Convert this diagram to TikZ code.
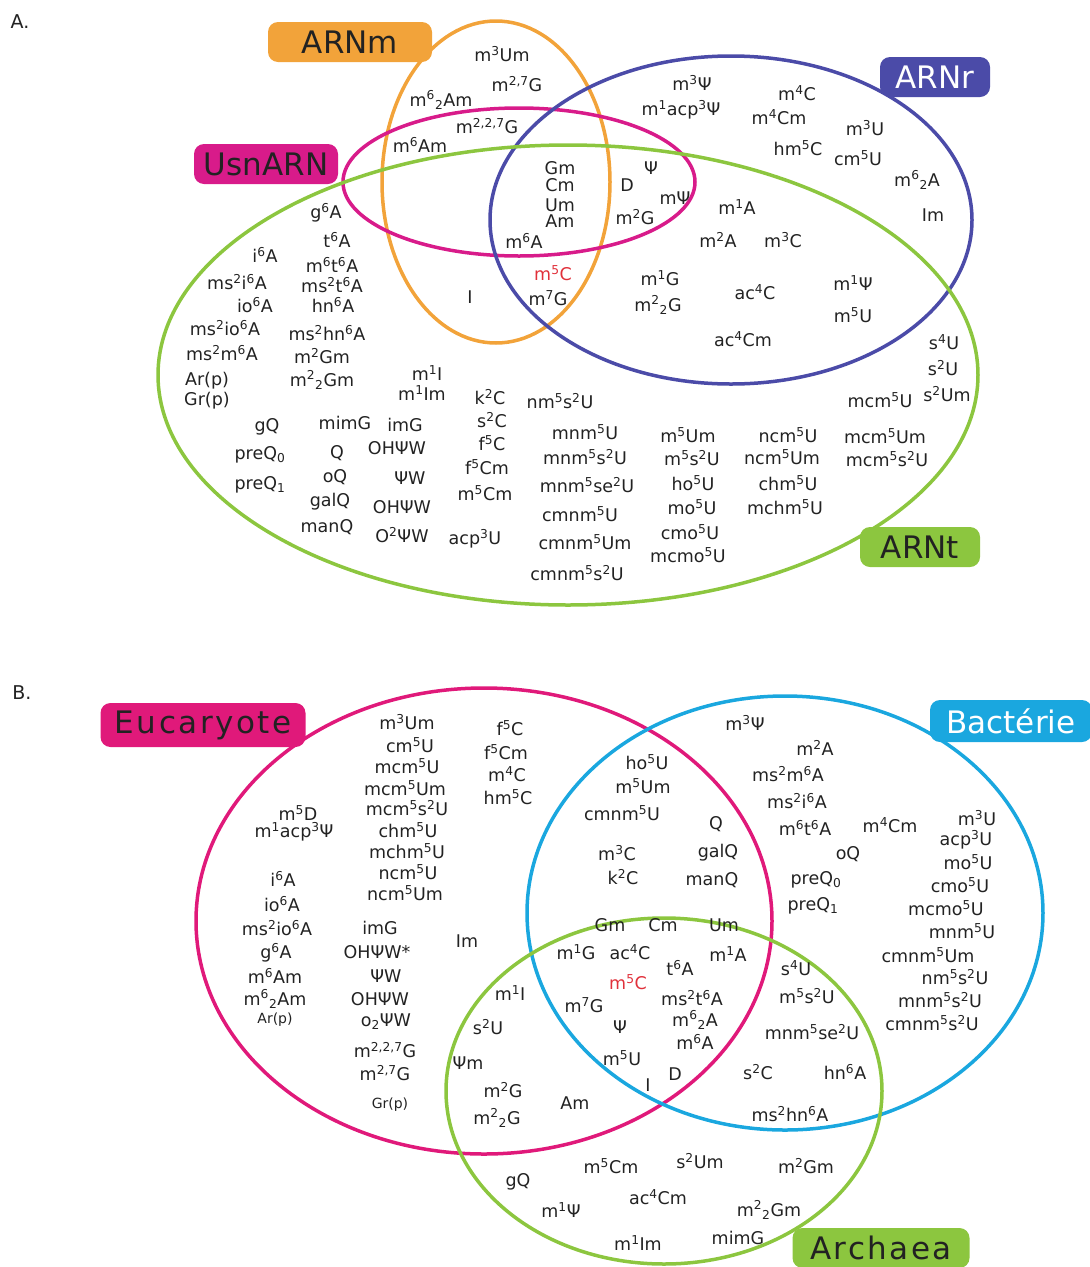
\documentclass[tikz,border=0pt]{standalone}
\usepackage{fontspec}
\setmainfont{DejaVu Sans}
\definecolor{orna}{HTML}{F2A33A}
\definecolor{magA}{HTML}{D81B8A}
\definecolor{indA}{HTML}{4B4BA8}
\definecolor{grnA}{HTML}{8CC63F}
\definecolor{magB}{HTML}{E0197A}
\definecolor{cyaB}{HTML}{1AA7DF}
\definecolor{hot}{HTML}{E0303A}
\definecolor{txt}{HTML}{222222}
\newcommand{\nsup}[1]{\textsuperscript{#1}}
\newcommand{\nsub}[1]{\textsubscript{#1}}
\tikzset{
  mod/.style={font=\fontsize{17.5}{19}\selectfont, inner sep=0pt, text=txt},
  tiny/.style={mod, font=\fontsize{14}{16}\selectfont},
  tag/.style={rounded corners=10pt, inner sep=0pt, minimum height=40pt, text=txt, font=\fontsize{31}{34}\selectfont},
  ring/.style={line width=3.5pt},
}
\begin{document}
\begin{tikzpicture}[x=1pt,y=-1pt]
\useasboundingbox (0,0) rectangle (1090,1267);
% panel A
\node[font=\fontsize{19}{21}\selectfont, text=txt] (pa) at (20,22) {A.};
\draw[ring, orna] (496,182) ellipse [x radius=114pt, y radius=161pt];
\draw[ring, magA] (519,182) ellipse [x radius=176pt, y radius=74pt];
\draw[ring, indA] (731,220) ellipse [x radius=241pt, y radius=164pt];
\draw[ring, grnA] (568,375) ellipse [x radius=410pt, y radius=230pt];
\node[tag, fill=orna, minimum width=164pt] (arnm) at (350,42) {ARNm};
\node[tag, fill=indA, text=white, minimum width=110pt] (arnr) at (935,77) {ARNr};
\node[tag, fill=magA, minimum width=144pt] (usn) at (266,164) {UsnARN};
\node[tag, fill=grnA, minimum width=120pt] (arnt) at (920,547) {ARNt};
\node[mod] (a1) at (502,54) {m\nsup{3}Um};
\node[mod] (a2) at (517,84) {m\nsup{2,7}G};
\node[mod] (a3) at (441,100) {m\nsup{6}\nsub{2}Am};
\node[mod] (a4) at (487,126) {m\nsup{2,2,7}G};
\node[mod] (a5) at (420,145) {m\nsup{6}Am};
\node[mod] (a6) at (470,297) {I};
\node[mod] (a7) at (560,168) {Gm};
\node[mod] (a8) at (560,185) {Cm};
\node[mod] (a9) at (560,205) {Um};
\node[mod] (a10) at (560,221) {Am};
\node[mod] (a11) at (524,241) {m\nsup{6}A};
\node[mod] (a12) at (627,185) {D};
\node[mod] (a13) at (651,168) {Ψ};
\node[mod] (a14) at (675,198) {mΨ};
\node[mod] (a15) at (635,217) {m\nsup{2}G};
\node[mod, text=hot] (a16) at (553,273) {m\nsup{5}C};
\node[mod] (a17) at (548,298) {m\nsup{7}G};
\node[mod] (a18) at (692,83) {m\nsup{3}Ψ};
\node[mod] (a19) at (681,110) {m\nsup{1}acp\nsup{3}Ψ};
\node[mod] (a20) at (797,93) {m\nsup{4}C};
\node[mod] (a21) at (779,117) {m\nsup{4}Cm};
\node[mod] (a22) at (798,148) {hm\nsup{5}C};
\node[mod] (a23) at (865,128) {m\nsup{3}U};
\node[mod] (a24) at (858,158) {cm\nsup{5}U};
\node[mod] (a25) at (917,180) {m\nsup{6}\nsub{2}A};
\node[mod] (a26) at (933,215) {Im};
\node[mod] (a27) at (737,207) {m\nsup{1}A};
\node[mod] (a28) at (718,240) {m\nsup{2}A};
\node[mod] (a29) at (783,240) {m\nsup{3}C};
\node[mod] (a30) at (660,278) {m\nsup{1}G};
\node[mod] (a31) at (658,305) {m\nsup{2}\nsub{2}G};
\node[mod] (a32) at (755,292) {ac\nsup{4}C};
\node[mod] (a33) at (853,283) {m\nsup{1}Ψ};
\node[mod] (a34) at (853,315) {m\nsup{5}U};
\node[mod] (a35) at (743,339) {ac\nsup{4}Cm};
\node[mod] (a36) at (944,342) {s\nsup{4}U};
\node[mod] (a37) at (943,368) {s\nsup{2}U};
\node[mod] (a38) at (880,400) {mcm\nsup{5}U};
\node[mod] (a39) at (947,394) {s\nsup{2}Um};
\node[mod] (a40) at (326,213) {g\nsup{6}A};
\node[mod] (a41) at (337,240) {t\nsup{6}A};
\node[mod] (a42) at (265,255) {i\nsup{6}A};
\node[mod] (a43) at (332,265) {m\nsup{6}t\nsup{6}A};
\node[mod] (a44) at (237,282) {ms\nsup{2}i\nsup{6}A};
\node[mod] (a45) at (332,285) {ms\nsup{2}t\nsup{6}A};
\node[mod] (a46) at (255,305) {io\nsup{6}A};
\node[mod] (a47) at (333,305) {hn\nsup{6}A};
\node[mod] (a48) at (225,328) {ms\nsup{2}io\nsup{6}A};
\node[mod] (a49) at (327,333) {ms\nsup{2}hn\nsup{6}A};
\node[mod] (a50) at (222,353) {ms\nsup{2}m\nsup{6}A};
\node[mod] (a51) at (322,356) {m\nsup{2}Gm};
\node[mod] (a52) at (322,380) {m\nsup{2}\nsub{2}Gm};
\node[mod] (a53) at (207,381) {Ar(p)};
\node[mod] (a54) at (207,401) {Gr(p)};
\node[mod] (a55) at (427,373) {m\nsup{1}I};
\node[mod] (a56) at (422,393) {m\nsup{1}Im};
\node[mod] (a57) at (490,397) {k\nsup{2}C};
\node[mod] (a58) at (560,401) {nm\nsup{5}s\nsup{2}U};
\node[mod] (a59) at (267,427) {gQ};
\node[mod] (a60) at (345,423) {mimG};
\node[mod] (a61) at (405,425) {imG};
\node[mod] (a62) at (492,420) {s\nsup{2}C};
\node[mod] (a63) at (260,455) {preQ\nsub{0}};
\node[mod] (a64) at (337,453) {Q};
\node[mod] (a65) at (397,448) {OHΨW};
\node[mod] (a66) at (492,443) {f\nsup{5}C};
\node[mod] (a67) at (487,467) {f\nsup{5}Cm};
\node[mod] (a68) at (260,485) {preQ\nsub{1}};
\node[mod] (a69) at (335,477) {oQ};
\node[mod] (a70) at (410,478) {ΨW};
\node[mod] (a71) at (485,493) {m\nsup{5}Cm};
\node[mod] (a72) at (330,502) {galQ};
\node[mod] (a73) at (402,507) {OHΨW};
\node[mod] (a74) at (327,527) {manQ};
\node[mod] (a75) at (402,535) {O\nsup{2}ΨW};
\node[mod] (a76) at (475,539) {acp\nsup{3}U};
\node[mod] (a77) at (585,432) {mnm\nsup{5}U};
\node[mod] (a78) at (585,457) {mnm\nsup{5}s\nsup{2}U};
\node[mod] (a79) at (587,485) {mnm\nsup{5}se\nsup{2}U};
\node[mod] (a80) at (580,514) {cmnm\nsup{5}U};
\node[mod] (a81) at (585,542) {cmnm\nsup{5}Um};
\node[mod] (a82) at (577,573) {cmnm\nsup{5}s\nsup{2}U};
\node[mod] (a83) at (688,435) {m\nsup{5}Um};
\node[mod] (a84) at (692,458) {m\nsup{5}s\nsup{2}U};
\node[mod] (a85) at (693,483) {ho\nsup{5}U};
\node[mod] (a86) at (692,507) {mo\nsup{5}U};
\node[mod] (a87) at (690,532) {cmo\nsup{5}U};
\node[mod] (a88) at (688,555) {mcmo\nsup{5}U};
\node[mod] (a89) at (788,435) {ncm\nsup{5}U};
\node[mod] (a90) at (782,457) {ncm\nsup{5}Um};
\node[mod] (a91) at (788,483) {chm\nsup{5}U};
\node[mod] (a92) at (785,507) {mchm\nsup{5}U};
\node[mod] (a93) at (885,436) {mcm\nsup{5}Um};
\node[mod] (a94) at (887,459) {mcm\nsup{5}s\nsup{2}U};
% panel B
\node[font=\fontsize{19}{21}\selectfont, text=txt] (pb) at (22,693) {B.};
\draw[ring, magB] (484,921) ellipse [x radius=288pt, y radius=233pt];
\draw[ring, cyaB] (785,913) ellipse [x radius=258pt, y radius=217pt];
\draw[ring, grnA] (664,1091) ellipse [x radius=218pt, y radius=173pt];
\node[tag, fill=magB, minimum width=205pt, minimum height=44pt, font=\fontsize{31}{34}\selectfont\addfontfeatures{LetterSpace=8}] (euc) at (203,725) {Eucaryote};
\node[tag, fill=cyaB, text=white, minimum width=162pt, minimum height=42pt] (bac) at (1011,721) {Bactérie};
\node[tag, fill=grnA, minimum width=177pt, font=\fontsize{31}{34}\selectfont\addfontfeatures{LetterSpace=8}] (arc) at (881,1248) {Archaea};
\node[mod] (b1) at (407,722) {m\nsup{3}Um};
\node[mod] (b2) at (410,745) {cm\nsup{5}U};
\node[mod] (b3) at (407,766) {mcm\nsup{5}U};
\node[mod] (b4) at (405,788) {mcm\nsup{5}Um};
\node[mod] (b5) at (407,808) {mcm\nsup{5}s\nsup{2}U};
\node[mod] (b6) at (408,830) {chm\nsup{5}U};
\node[mod] (b7) at (407,851) {mchm\nsup{5}U};
\node[mod] (b8) at (408,872) {ncm\nsup{5}U};
\node[mod] (b9) at (405,893) {ncm\nsup{5}Um};
\node[mod] (b10) at (510,728) {f\nsup{5}C};
\node[mod] (b11) at (506,752) {f\nsup{5}Cm};
\node[mod] (b12) at (507,774) {m\nsup{4}C};
\node[mod] (b13) at (508,797) {hm\nsup{5}C};
\node[mod] (b14) at (298,813) {m\nsup{5}D};
\node[mod] (b15) at (294,832) {m\nsup{1}acp\nsup{3}Ψ};
\node[mod] (b16) at (283,879) {i\nsup{6}A};
\node[mod] (b17) at (282,904) {io\nsup{6}A};
\node[mod] (b18) at (277,928) {ms\nsup{2}io\nsup{6}A};
\node[mod] (b19) at (276,953) {g\nsup{6}A};
\node[mod] (b20) at (275,976) {m\nsup{6}Am};
\node[mod] (b21) at (275,999) {m\nsup{6}\nsub{2}Am};
\node[tiny] (b22) at (275,1020) {Ar(p)};
\node[mod] (b23) at (380,928) {imG};
\node[mod] (b24) at (377,952) {OHΨW*};
\node[mod] (b25) at (386,976) {ΨW};
\node[mod] (b26) at (380,999) {OHΨW};
\node[mod] (b27) at (386,1022) {o\nsub{2}ΨW};
\node[mod] (b28) at (385,1050) {m\nsup{2,2,7}G};
\node[mod] (b29) at (385,1073) {m\nsup{2,7}G};
\node[tiny] (b30) at (390,1105) {Gr(p)};
\node[mod] (b31) at (467,941) {Im};
\node[mod] (b32) at (510,993) {m\nsup{1}I};
\node[mod] (b33) at (488,1027) {s\nsup{2}U};
\node[mod] (b34) at (468,1063) {Ψm};
\node[mod] (b35) at (503,1090) {m\nsup{2}G};
\node[mod] (b36) at (497,1118) {m\nsup{2}\nsub{2}G};
\node[mod] (b37) at (575,1103) {Am};
\node[mod] (b38) at (610,925) {Gm};
\node[mod] (b39) at (663,925) {Cm};
\node[mod] (b40) at (724,925) {Um};
\node[mod] (b41) at (576,952) {m\nsup{1}G};
\node[mod] (b42) at (630,952) {ac\nsup{4}C};
\node[mod] (b43) at (728,954) {m\nsup{1}A};
\node[mod] (b44) at (680,968) {t\nsup{6}A};
\node[mod, text=hot] (b45) at (628,982) {m\nsup{5}C};
\node[mod] (b46) at (584,1005) {m\nsup{7}G};
\node[mod] (b47) at (692,998) {ms\nsup{2}t\nsup{6}A};
\node[mod] (b48) at (695,1020) {m\nsup{6}\nsub{2}A};
\node[mod] (b49) at (695,1042) {m\nsup{6}A};
\node[mod] (b50) at (620,1027) {Ψ};
\node[mod] (b51) at (622,1058) {m\nsup{5}U};
\node[mod] (b52) at (648,1085) {I};
\node[mod] (b53) at (675,1074) {D};
\node[mod] (b54) at (647,762) {ho\nsup{5}U};
\node[mod] (b55) at (643,786) {m\nsup{5}Um};
\node[mod] (b56) at (622,813) {cmnm\nsup{5}U};
\node[mod] (b57) at (716,824) {Q};
\node[mod] (b58) at (617,853) {m\nsup{3}C};
\node[mod] (b59) at (623,877) {k\nsup{2}C};
\node[mod] (b60) at (718,853) {galQ};
\node[mod] (b61) at (712,880) {manQ};
\node[mod] (b62) at (745,723) {m\nsup{3}Ψ};
\node[mod] (b63) at (815,748) {m\nsup{2}A};
\node[mod] (b64) at (788,774) {ms\nsup{2}m\nsup{6}A};
\node[mod] (b65) at (797,801) {ms\nsup{2}i\nsup{6}A};
\node[mod] (b66) at (805,828) {m\nsup{6}t\nsup{6}A};
\node[mod] (b67) at (890,825) {m\nsup{4}Cm};
\node[mod] (b68) at (848,854) {oQ};
\node[mod] (b69) at (816,880) {preQ\nsub{0}};
\node[mod] (b70) at (813,906) {preQ\nsub{1}};
\node[mod] (b71) at (977,818) {m\nsup{3}U};
\node[mod] (b72) at (966,840) {acp\nsup{3}U};
\node[mod] (b73) at (968,862) {mo\nsup{5}U};
\node[mod] (b74) at (960,885) {cmo\nsup{5}U};
\node[mod] (b75) at (946,908) {mcmo\nsup{5}U};
\node[mod] (b76) at (962,931) {mnm\nsup{5}U};
\node[mod] (b77) at (928,955) {cmnm\nsup{5}Um};
\node[mod] (b78) at (955,977) {nm\nsup{5}s\nsup{2}U};
\node[mod] (b79) at (940,1000) {mnm\nsup{5}s\nsup{2}U};
\node[mod] (b80) at (932,1023) {cmnm\nsup{5}s\nsup{2}U};
\node[mod] (b81) at (796,968) {s\nsup{4}U};
\node[mod] (b82) at (807,996) {m\nsup{5}s\nsup{2}U};
\node[mod] (b83) at (812,1032) {mnm\nsup{5}se\nsup{2}U};
\node[mod] (b84) at (758,1072) {s\nsup{2}C};
\node[mod] (b85) at (845,1072) {hn\nsup{6}A};
\node[mod] (b86) at (790,1114) {ms\nsup{2}hn\nsup{6}A};
\node[mod] (b87) at (611,1166) {m\nsup{5}Cm};
\node[mod] (b88) at (700,1161) {s\nsup{2}Um};
\node[mod] (b89) at (806,1166) {m\nsup{2}Gm};
\node[mod] (b90) at (518,1182) {gQ};
\node[mod] (b91) at (658,1197) {ac\nsup{4}Cm};
\node[mod] (b92) at (561,1210) {m\nsup{1}Ψ};
\node[mod] (b93) at (769,1210) {m\nsup{2}\nsub{2}Gm};
\node[mod] (b94) at (638,1243) {m\nsup{1}Im};
\node[mod] (b95) at (738,1238) {mimG};
\end{tikzpicture}
\end{document}
